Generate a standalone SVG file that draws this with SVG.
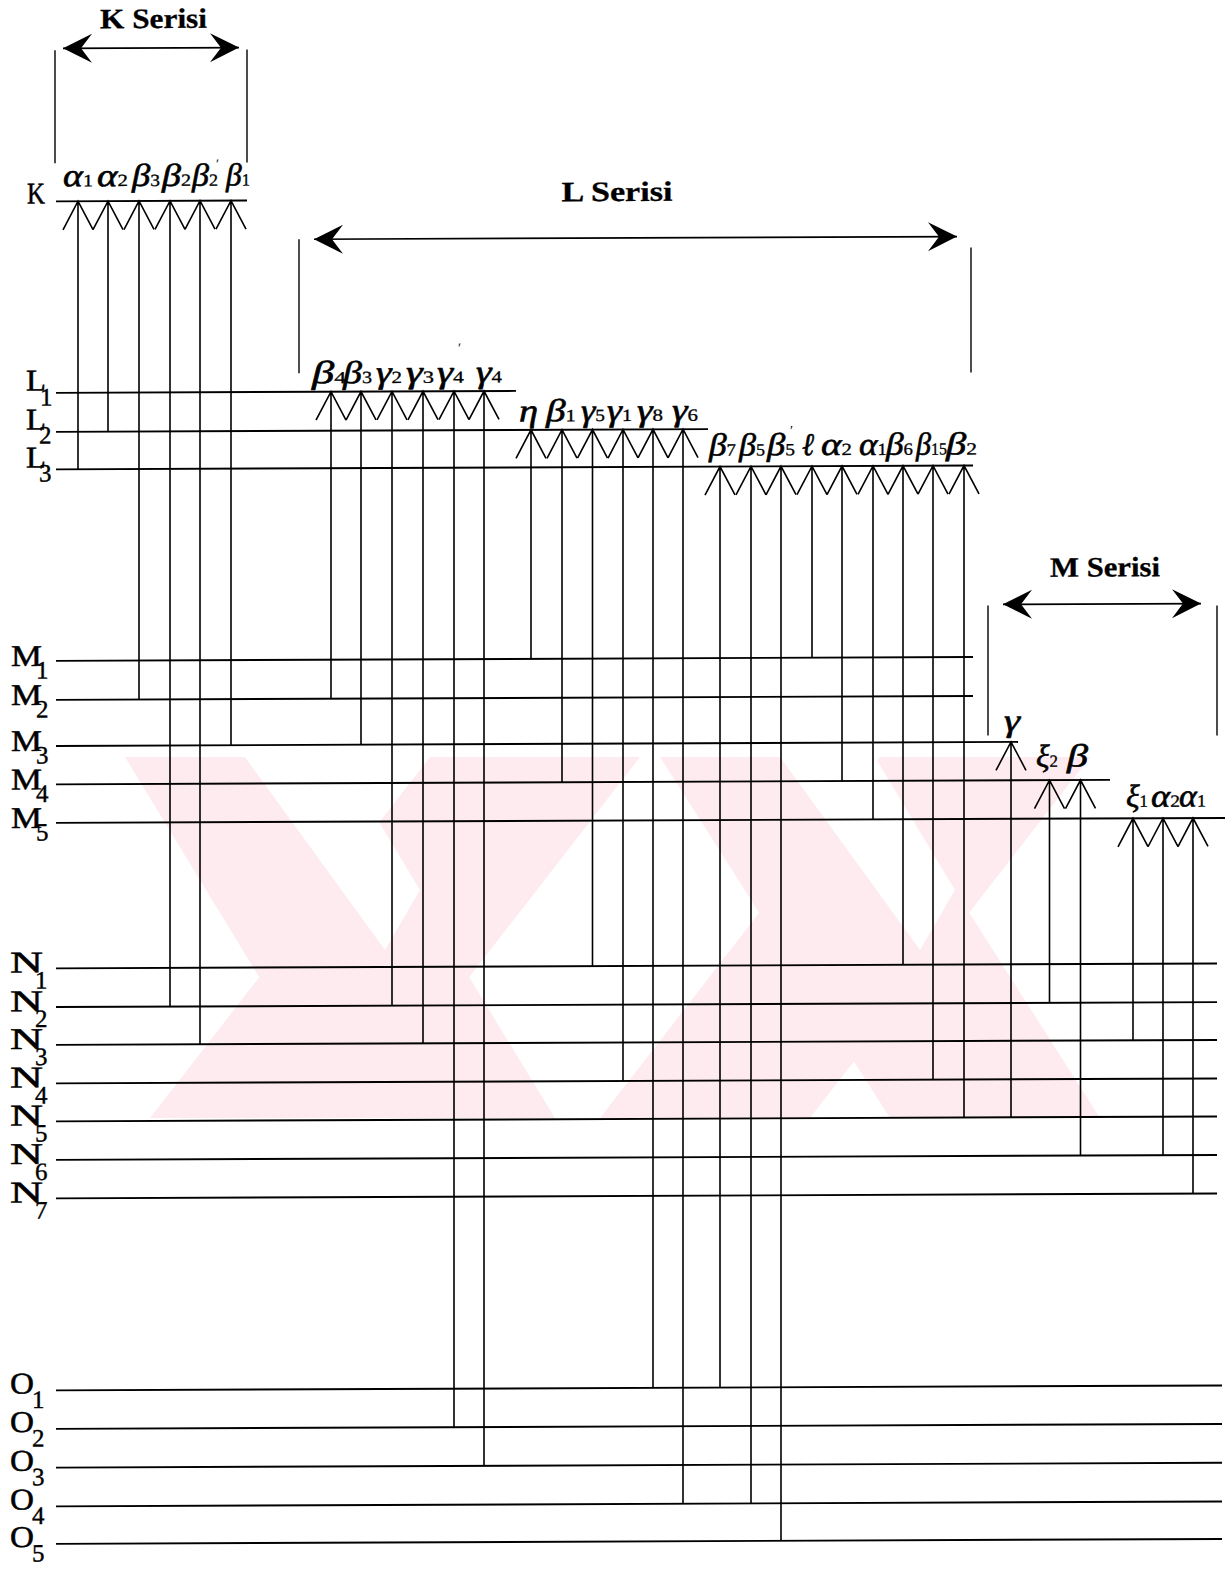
<svg xmlns="http://www.w3.org/2000/svg" width="1225" height="1574" viewBox="0 0 1225 1574">
<style>
.lv{stroke:#000;stroke-width:1.9;fill:none}
.tr{stroke:#000;stroke-width:1.6;fill:none}
.br{stroke:#000;stroke-width:1.4;fill:none}
.ar{stroke:#000;stroke-width:1.7;fill:none}
.wm{fill:#fdebef}
.wmw{fill:#fff}
.lbl{font-family:"Liberation Serif",serif;font-size:30px;fill:#000;stroke:#000;stroke-width:0.5}
.lsub{font-family:"Liberation Serif",serif;font-size:25px;fill:#000;stroke:#000;stroke-width:0.4}
.g{font-family:"Liberation Serif",serif;font-style:italic;font-size:32px;fill:#000;stroke:#000;stroke-width:0.6}
.gs{font-style:normal;font-size:17px;stroke-width:0.3}
.pr{font-family:"Liberation Serif",serif;font-size:14px;fill:#000}
.title{font-family:"Liberation Serif",serif;font-weight:bold;font-size:28px;text-anchor:middle;fill:#000;stroke:#000;stroke-width:0.3}
</style>
<defs>
<marker id="head" markerUnits="userSpaceOnUse" markerWidth="32" markerHeight="32" refX="30" refY="16" orient="auto-start-reverse">
<path d="M30,16 L1,1.5 L12,16 L1,30.5 Z" fill="#000"/>
</marker>
</defs>
<rect width="1225" height="1574" fill="#fff"/>
<g id="watermark">
<polygon class="wm" points="125,757 335,757 555,1118 345,1118"/>
<polygon class="wm" points="430,757 640,757 360,1118 150,1118"/>
<polygon class="wm" points="660,757 870,757 1100,1118 890,1118"/>
<polygon class="wm" points="880,757 1090,757 810,1118 600,1118"/>
<polygon class="wmw" points="245,757 340,757 420,890 385,950"/>
<polygon class="wmw" points="780,757 875,757 955,890 920,950"/>
</g>
<g id="drawing" transform="matrix(1 -0.0042 0 1 0 2.57)">
<g id="brackets">
<g id="series-K">
<text class="title" x="153.5" y="26" textLength="107" lengthAdjust="spacingAndGlyphs">K Serisi</text>
<line class="ar" x1="63" y1="46" x2="239" y2="46" marker-start="url(#head)" marker-end="url(#head)"/>
<line class="br" x1="55" y1="48" x2="55" y2="161"/>
<line class="br" x1="247" y1="48" x2="247" y2="161"/>
</g>
<g id="series-L">
<text class="title" x="617" y="201" textLength="111" lengthAdjust="spacingAndGlyphs">L Serisi</text>
<line class="ar" x1="314" y1="238" x2="957" y2="238" marker-start="url(#head)" marker-end="url(#head)"/>
<line class="br" x1="299" y1="238" x2="299" y2="372"/>
<line class="br" x1="971" y1="249" x2="971" y2="374"/>
</g>
<g id="series-M">
<text class="title" x="1105" y="578.5" textLength="110" lengthAdjust="spacingAndGlyphs">M Serisi</text>
<line class="ar" x1="1003" y1="606" x2="1201" y2="606" marker-start="url(#head)" marker-end="url(#head)"/>
<line class="br" x1="988" y1="607" x2="988" y2="737"/>
<line class="br" x1="1217" y1="608" x2="1217" y2="738"/>
</g>
</g>
<g id="levels">
<g id="level-K"><line class="lv" x1="56" y1="199" x2="247" y2="199"/><text class="lbl" x="27" y="201" font-size="24" textLength="18" lengthAdjust="spacingAndGlyphs">K</text></g>
<g id="level-L1"><line class="lv" x1="56" y1="390.5" x2="516" y2="390.5"/><text class="lbl" x="26" y="388" font-size="28" textLength="20" lengthAdjust="spacingAndGlyphs">L</text><text class="lsub" x="40" y="403" font-size="23">1</text></g>
<g id="level-L2"><line class="lv" x1="56" y1="429.5" x2="708" y2="429.5"/><text class="lbl" x="26" y="427" font-size="28" textLength="20" lengthAdjust="spacingAndGlyphs">L</text><text class="lsub" x="39" y="441" font-size="23">2</text></g>
<g id="level-L3"><line class="lv" x1="56" y1="467" x2="973" y2="467"/><text class="lbl" x="26" y="465" font-size="28" textLength="20" lengthAdjust="spacingAndGlyphs">L</text><text class="lsub" x="39" y="479" font-size="23">3</text></g>
<g id="level-M1"><line class="lv" x1="56" y1="658.5" x2="973" y2="658.5"/><text class="lbl" x="11" y="663.5" textLength="31" lengthAdjust="spacingAndGlyphs">M</text><text class="lsub" x="36" y="676">1</text></g>
<g id="level-M2"><line class="lv" x1="56" y1="697.5" x2="973" y2="697.5"/><text class="lbl" x="11" y="702.5" textLength="31" lengthAdjust="spacingAndGlyphs">M</text><text class="lsub" x="36" y="715">2</text></g>
<g id="level-M3"><line class="lv" x1="56" y1="743.6" x2="1018" y2="743.6"/><text class="lbl" x="11" y="748.6" textLength="31" lengthAdjust="spacingAndGlyphs">M</text><text class="lsub" x="36" y="761">3</text></g>
<g id="level-M4"><line class="lv" x1="56" y1="782" x2="1110" y2="782"/><text class="lbl" x="11" y="787" textLength="31" lengthAdjust="spacingAndGlyphs">M</text><text class="lsub" x="36" y="799.5">4</text></g>
<g id="level-M5"><line class="lv" x1="56" y1="820.5" x2="1225" y2="820.5"/><text class="lbl" x="11" y="825.5" textLength="31" lengthAdjust="spacingAndGlyphs">M</text><text class="lsub" x="36" y="838">5</text></g>
<g id="level-N1"><line class="lv" x1="56" y1="966" x2="1217" y2="966"/><text class="lbl" x="10" y="970" textLength="33" lengthAdjust="spacingAndGlyphs">N</text><text class="lsub" x="35" y="986">1</text></g>
<g id="level-N2"><line class="lv" x1="56" y1="1004.7" x2="1217" y2="1004.7"/><text class="lbl" x="10" y="1008.7" textLength="33" lengthAdjust="spacingAndGlyphs">N</text><text class="lsub" x="35" y="1024.7">2</text></g>
<g id="level-N3"><line class="lv" x1="56" y1="1042.5" x2="1217" y2="1042.5"/><text class="lbl" x="10" y="1046.5" textLength="33" lengthAdjust="spacingAndGlyphs">N</text><text class="lsub" x="35" y="1062.5">3</text></g>
<g id="level-N4"><line class="lv" x1="56" y1="1081" x2="1217" y2="1081"/><text class="lbl" x="10" y="1085" textLength="33" lengthAdjust="spacingAndGlyphs">N</text><text class="lsub" x="35" y="1101">4</text></g>
<g id="level-N5"><line class="lv" x1="56" y1="1119" x2="1217" y2="1119"/><text class="lbl" x="10" y="1123" textLength="33" lengthAdjust="spacingAndGlyphs">N</text><text class="lsub" x="35" y="1139">5</text></g>
<g id="level-N6"><line class="lv" x1="56" y1="1157.5" x2="1217" y2="1157.5"/><text class="lbl" x="10" y="1161.5" textLength="33" lengthAdjust="spacingAndGlyphs">N</text><text class="lsub" x="35" y="1177.5">6</text></g>
<g id="level-N7"><line class="lv" x1="56" y1="1196" x2="1217" y2="1196"/><text class="lbl" x="10" y="1200" textLength="33" lengthAdjust="spacingAndGlyphs">N</text><text class="lsub" x="35" y="1216">7</text></g>
<g id="level-O1"><line class="lv" x1="56" y1="1388" x2="1222" y2="1388"/><text class="lbl" x="10" y="1391" textLength="24" lengthAdjust="spacingAndGlyphs">O</text><text class="lsub" x="32" y="1405.5">1</text></g>
<g id="level-O2"><line class="lv" x1="56" y1="1426.5" x2="1222" y2="1426.5"/><text class="lbl" x="10" y="1429.5" textLength="24" lengthAdjust="spacingAndGlyphs">O</text><text class="lsub" x="32" y="1444">2</text></g>
<g id="level-O3"><line class="lv" x1="56" y1="1465.3" x2="1222" y2="1465.3"/><text class="lbl" x="10" y="1468.3" textLength="24" lengthAdjust="spacingAndGlyphs">O</text><text class="lsub" x="32" y="1482.8">3</text></g>
<g id="level-O4"><line class="lv" x1="56" y1="1504" x2="1222" y2="1504"/><text class="lbl" x="10" y="1507" textLength="24" lengthAdjust="spacingAndGlyphs">O</text><text class="lsub" x="32" y="1521.5">4</text></g>
<g id="level-O5"><line class="lv" x1="56" y1="1541.5" x2="1222" y2="1541.5"/><text class="lbl" x="10" y="1544.5" textLength="24" lengthAdjust="spacingAndGlyphs">O</text><text class="lsub" x="32" y="1559">5</text></g>
</g>
<g id="connectors" class="tr">
<path d="M63,227.5 L78,199 L93,227.5 M78,199 V467"/>
<path d="M93,227.5 L108,199 L123,227.5 M108,199 V429.5"/>
<path d="M124,227.5 L139,199 L154,227.5 M139,199 V697.5"/>
<path d="M155,227.5 L170,199 L185,227.5 M170,199 V1004.7"/>
<path d="M185,227.5 L200,199 L215,227.5 M200,199 V1042.5"/>
<path d="M216,227.5 L231,199 L246,227.5 M231,199 V743.6"/>

<path d="M316,419 L331,390.5 L346,419 M331,390.5 V697.5"/>
<path d="M346,419 L361,390.5 L376,419 M361,390.5 V743.6"/>
<path d="M377,419 L392,390.5 L407,419 M392,390.5 V1004.7"/>
<path d="M408,419 L423,390.5 L438,419 M423,390.5 V1042.5"/>
<path d="M439,419 L454,390.5 L469,419 M454,390.5 V1426.5"/>
<path d="M469,419 L484,390.5 L499,419 M484,390.5 V1465.3"/>

<path d="M516,458 L531,429.5 L546,458 M531,429.5 V658.5"/>
<path d="M547,458 L562,429.5 L577,458 M562,429.5 V782"/>
<path d="M577.5,458 L592.5,429.5 L607.5,458 M592.5,429.5 V966"/>
<path d="M608,458 L623,429.5 L638,458 M623,429.5 V1081"/>
<path d="M638,458 L653,429.5 L668,458 M653,429.5 V1388"/>
<path d="M668,458 L683,429.5 L698,458 M683,429.5 V1504"/>

<path d="M705,495.5 L720,467 L735,495.5 M720,467 V1388"/>
<path d="M736,495.5 L751,467 L766,495.5 M751,467 V1504"/>
<path d="M766,495.5 L781,467 L796,495.5 M781,467 V1541.5"/>
<path d="M797,495.5 L812,467 L827,495.5 M812,467 V658.5"/>
<path d="M827,495.5 L842,467 L857,495.5 M842,467 V782"/>
<path d="M858,495.5 L873,467 L888,495.5 M873,467 V820.5"/>
<path d="M888,495.5 L903,467 L918,495.5 M903,467 V966"/>
<path d="M918,495.5 L933,467 L948,495.5 M933,467 V1081"/>
<path d="M949,495.5 L964,467 L979,495.5 M964,467 V1119"/>

<path d="M996,772 L1011,743.6 L1026,772 M1011,743.6 V1119"/>
<path d="M1034.5,810.5 L1049.5,782 L1064.5,810.5 M1049.5,782 V1004.7"/>
<path d="M1065.5,810.5 L1080.5,782 L1095.5,810.5 M1080.5,782 V1157.5"/>
<path d="M1118,849 L1133,820.5 L1148,849 M1133,820.5 V1042.5"/>
<path d="M1148,849 L1163,820.5 L1178,849 M1163,820.5 V1157.5"/>
<path d="M1178,849 L1193,820.5 L1208,849 M1193,820.5 V1196"/>
</g>
<g id="transition-labels">
<text class="g" x="63" y="184" textLength="30" lengthAdjust="spacingAndGlyphs">α<tspan class="gs">1</tspan></text>
<text class="g" x="97" y="184" textLength="31" lengthAdjust="spacingAndGlyphs">α<tspan class="gs">2</tspan></text>
<text class="g" x="132" y="184" textLength="28" lengthAdjust="spacingAndGlyphs">β<tspan class="gs">3</tspan></text>
<text class="g" x="162" y="184" textLength="29" lengthAdjust="spacingAndGlyphs">β<tspan class="gs">2</tspan></text>
<text class="g" x="192" y="184" textLength="26" lengthAdjust="spacingAndGlyphs">β<tspan class="gs">2</tspan></text>
<text class="pr" x="216" y="167">′</text>
<text class="g" x="226" y="184" textLength="24" lengthAdjust="spacingAndGlyphs">β<tspan class="gs">1</tspan></text>

<text class="g" x="312" y="382" textLength="34" lengthAdjust="spacingAndGlyphs">β<tspan class="gs">4</tspan></text>
<text class="g" x="343" y="382" textLength="29" lengthAdjust="spacingAndGlyphs">β<tspan class="gs">3</tspan></text>
<text class="g" x="376" y="382" textLength="26" lengthAdjust="spacingAndGlyphs">γ<tspan class="gs">2</tspan></text>
<text class="g" x="406" y="382" textLength="28" lengthAdjust="spacingAndGlyphs">γ<tspan class="gs">3</tspan></text>
<text class="g" x="437" y="382" textLength="27" lengthAdjust="spacingAndGlyphs">γ<tspan class="gs">4</tspan></text>
<text class="pr" x="458" y="352">′</text>
<text class="g" x="476" y="382" textLength="26" lengthAdjust="spacingAndGlyphs">γ<tspan class="gs">4</tspan></text>

<text class="g" x="519" y="421" textLength="19" lengthAdjust="spacingAndGlyphs">η</text>
<text class="g" x="546" y="421" textLength="30" lengthAdjust="spacingAndGlyphs">β<tspan class="gs">1</tspan></text>
<text class="g" x="581" y="421" textLength="24" lengthAdjust="spacingAndGlyphs">γ<tspan class="gs">5</tspan></text>
<text class="g" x="607" y="421" textLength="25" lengthAdjust="spacingAndGlyphs">γ<tspan class="gs">1</tspan></text>
<text class="g" x="637" y="421" textLength="26" lengthAdjust="spacingAndGlyphs">γ<tspan class="gs">8</tspan></text>
<text class="g" x="672" y="421" textLength="26" lengthAdjust="spacingAndGlyphs">γ<tspan class="gs">6</tspan></text>

<text class="g" x="709" y="456" textLength="27" lengthAdjust="spacingAndGlyphs">β<tspan class="gs">7</tspan></text>
<text class="g" x="739" y="456" textLength="26" lengthAdjust="spacingAndGlyphs">β<tspan class="gs">5</tspan></text>
<text class="g" x="767" y="456" textLength="28" lengthAdjust="spacingAndGlyphs">β<tspan class="gs">5</tspan></text>
<text class="pr" x="790" y="436">′</text>
<text class="g" x="802" y="456" textLength="12" lengthAdjust="spacingAndGlyphs">ℓ</text>
<text class="g" x="821" y="456" textLength="31" lengthAdjust="spacingAndGlyphs">α<tspan class="gs">2</tspan></text>
<text class="g" x="859" y="456" textLength="28" lengthAdjust="spacingAndGlyphs">α<tspan class="gs">1</tspan></text>
<text class="g" x="886" y="456" textLength="27" lengthAdjust="spacingAndGlyphs">β<tspan class="gs">6</tspan></text>
<text class="g" x="916" y="456" textLength="31" lengthAdjust="spacingAndGlyphs">β<tspan class="gs">15</tspan></text>
<text class="g" x="946" y="456" textLength="31" lengthAdjust="spacingAndGlyphs">β<tspan class="gs">2</tspan></text>

<text class="g" x="1004" y="733" textLength="16" lengthAdjust="spacingAndGlyphs">γ</text>
<text class="g" x="1036" y="768.5" textLength="22" lengthAdjust="spacingAndGlyphs">ξ<tspan class="gs">2</tspan></text>
<text class="g" x="1067" y="768.5" textLength="21" lengthAdjust="spacingAndGlyphs">β</text>
<text class="g" x="1126" y="809" textLength="22" lengthAdjust="spacingAndGlyphs">ξ<tspan class="gs">1</tspan></text>
<text class="g" x="1151" y="809" textLength="29" lengthAdjust="spacingAndGlyphs">α<tspan class="gs">2</tspan></text>
<text class="g" x="1179" y="809" textLength="27" lengthAdjust="spacingAndGlyphs">α<tspan class="gs">1</tspan></text>
</g>
</g>
</svg>
